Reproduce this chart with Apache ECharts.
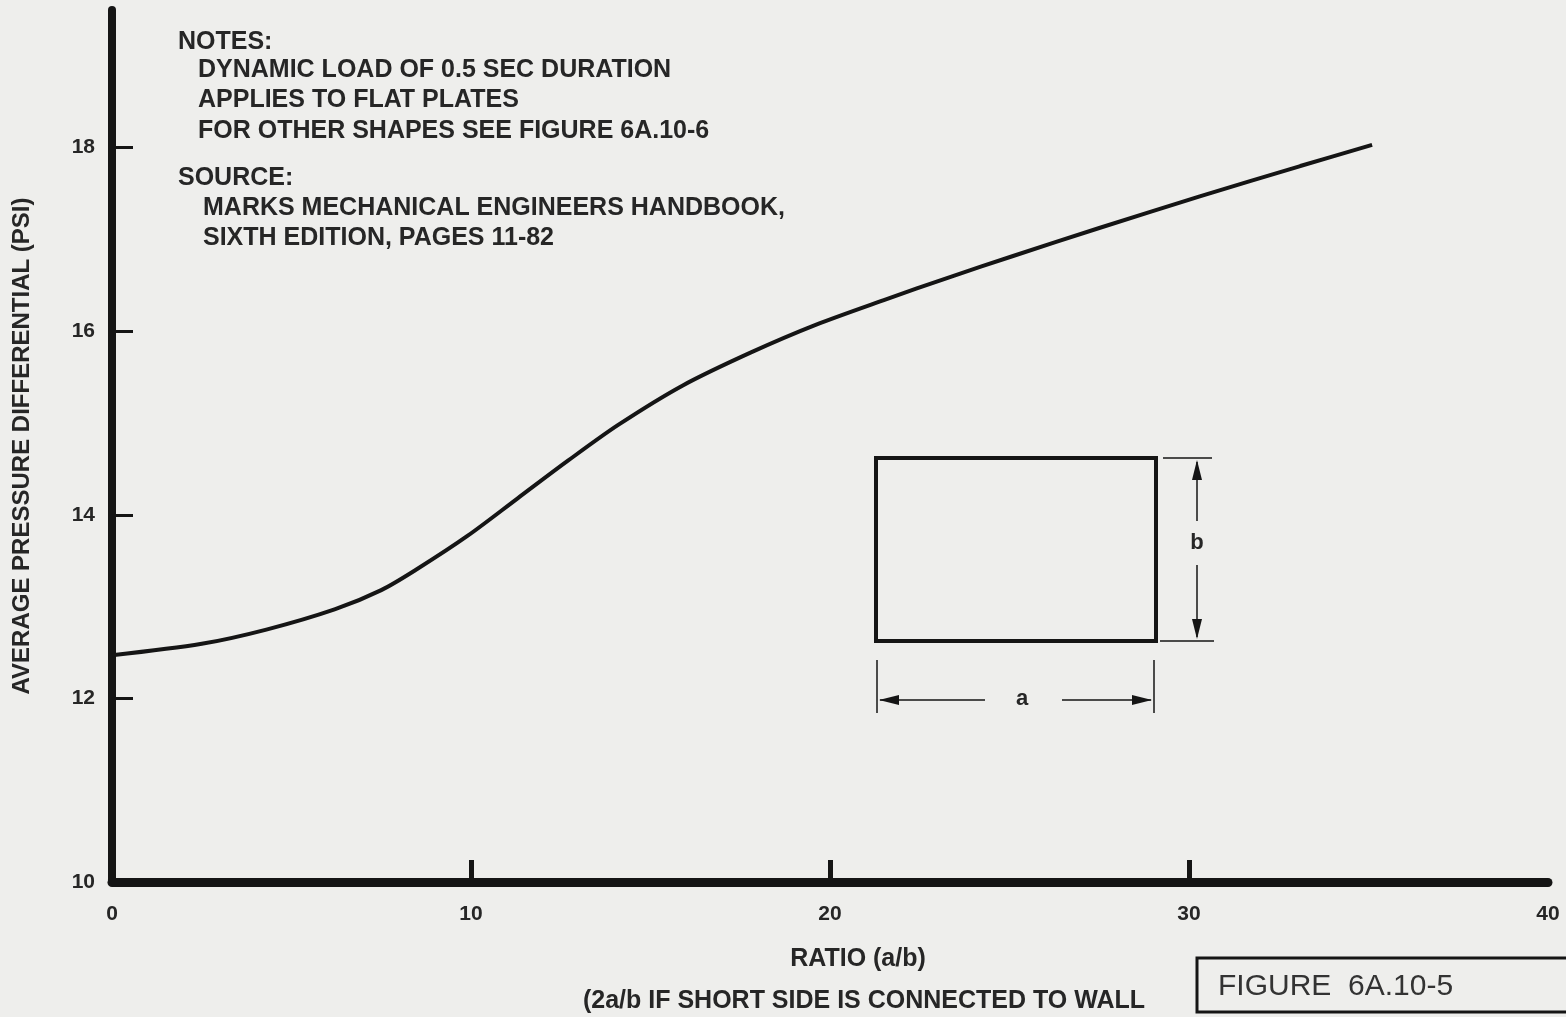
<!DOCTYPE html>
<html>
<head>
<meta charset="utf-8">
<script src="https://cdn.jsdelivr.net/npm/echarts@6/dist/echarts.min.js"></script>
<style>html,body{margin:0;padding:0;background:#eeeeec;}#c{width:1566px;height:1017px;}</style>
</head>
<body>
<div id="c"></div>
<script>
// Curve: ratio a/b vs average pressure differential (psi)
const ratioValues = [0, 2.5, 4.3, 6.2, 7.5, 8.5, 9.9, 11.3, 12.7, 14.1, 15.9, 17.8, 19.6, 21.5, 23.3, 25.1, 27.5, 30.3, 33.1, 35.1];
const pressureValues = [12.47, 12.595, 12.75, 12.97, 13.18, 13.41, 13.77, 14.18, 14.59, 14.98, 15.41, 15.77, 16.07, 16.34, 16.585, 16.82, 17.125, 17.47, 17.80, 18.03];
const xTickLabels = [0, 10, 20, 30, 40];
const yTickLabels = [10, 12, 14, 16, 18];
const xTickMarks = [10, 20, 30];
const yTickMarks = [12, 14, 16, 18];
const notesLines = ['NOTES:', 'DYNAMIC LOAD OF 0.5 SEC DURATION', 'APPLIES TO FLAT PLATES', 'FOR OTHER SHAPES SEE FIGURE 6A.10-6', 'SOURCE:', 'MARKS MECHANICAL ENGINEERS HANDBOOK,', 'SIXTH EDITION, PAGES 11-82'];

const ink = '#151515';
const textInk = '#262626';
const font = '"Liberation Sans", Arial, sans-serif';
const chart = echarts.init(document.getElementById('c'), null, {renderer: 'canvas'});

const noteX = [178, 198, 198, 198, 178, 203, 203];
const noteY = [42, 70, 100, 131, 178, 208, 238];
const noteText = notesLines.map((t, i) => ({
  type: 'text', x: noteX[i], y: noteY[i],
  style: {text: t, font: 'bold 25px ' + font, fill: textInk, verticalAlign: 'middle'}
}));

chart.setOption({
  backgroundColor: '#eeeeec',
  animation: false,
  grid: {left: 112, right: 18, top: 10, bottom: 135, outerBoundsMode: 'none', containLabel: false},
  xAxis: {
    type: 'value', min: 0, max: 40, interval: 10,
    name: 'RATIO (a/b)', nameLocation: 'middle', nameGap: 65,
    nameTextStyle: {fontFamily: font, fontWeight: 'bold', fontSize: 25, color: textInk, padding: [0, 0, 0, 56]},
    axisLine: {lineStyle: {color: ink, width: 9}},
    axisTick: {inside: true, length: 22, lineStyle: {color: ink, width: 5}, customValues: xTickMarks},
    axisLabel: {customValues: xTickLabels, margin: 22, fontFamily: font, fontWeight: 'bold', fontSize: 21, color: textInk},
    splitLine: {show: false}
  },
  yAxis: {
    type: 'value', min: 10, max: 19.5, interval: 2,
    name: 'AVERAGE PRESSURE DIFFERENTIAL (PSI)', nameLocation: 'middle', nameGap: 78, nameRotate: 90,
    nameTextStyle: {fontFamily: font, fontWeight: 'bold', fontSize: 24, color: textInk},
    axisLine: {lineStyle: {color: ink, width: 8}},
    axisTick: {inside: true, length: 21, lineStyle: {color: ink, width: 3}, customValues: yTickMarks},
    axisLabel: {customValues: yTickLabels, margin: 17, fontFamily: font, fontWeight: 'bold', fontSize: 21, color: textInk},
    splitLine: {show: false}
  },
  series: [{
    type: 'line', smooth: 0.3, showSymbol: false,
    lineStyle: {color: ink, width: 4},
    data: ratioValues.map((x, i) => [x, pressureValues[i]])
  }],
  graphic: noteText.concat([
    // inset plate sketch
    {type: 'rect', shape: {x: 876, y: 458, width: 280, height: 183}, style: {fill: 'none', stroke: ink, lineWidth: 4}},
    {type: 'line', shape: {x1: 1163, y1: 458, x2: 1212, y2: 458}, style: {stroke: ink, lineWidth: 1.5}},
    {type: 'line', shape: {x1: 1160, y1: 641, x2: 1214, y2: 641}, style: {stroke: ink, lineWidth: 1.5}},
    {type: 'line', shape: {x1: 1197, y1: 462, x2: 1197, y2: 521}, style: {stroke: ink, lineWidth: 1.5}},
    {type: 'line', shape: {x1: 1197, y1: 565, x2: 1197, y2: 637}, style: {stroke: ink, lineWidth: 1.5}},
    {type: 'polygon', shape: {points: [[1197, 460], [1192, 480], [1202, 480]]}, style: {fill: ink}},
    {type: 'polygon', shape: {points: [[1197, 639], [1192, 619], [1202, 619]]}, style: {fill: ink}},
    {type: 'text', x: 1197, y: 543, style: {text: 'b', font: 'bold 22px ' + font, fill: textInk, align: 'center', verticalAlign: 'middle'}},
    {type: 'line', shape: {x1: 877, y1: 660, x2: 877, y2: 713}, style: {stroke: ink, lineWidth: 1.5}},
    {type: 'line', shape: {x1: 1154, y1: 660, x2: 1154, y2: 713}, style: {stroke: ink, lineWidth: 1.5}},
    {type: 'line', shape: {x1: 880, y1: 700, x2: 985, y2: 700}, style: {stroke: ink, lineWidth: 1.5}},
    {type: 'line', shape: {x1: 1062, y1: 700, x2: 1151, y2: 700}, style: {stroke: ink, lineWidth: 1.5}},
    {type: 'polygon', shape: {points: [[879, 700], [899, 695], [899, 705]]}, style: {fill: ink}},
    {type: 'polygon', shape: {points: [[1152, 700], [1132, 695], [1132, 705]]}, style: {fill: ink}},
    {type: 'text', x: 1022, y: 699, style: {text: 'a', font: 'bold 22px ' + font, fill: textInk, align: 'center', verticalAlign: 'middle'}},
    // subtitle and figure box
    {type: 'text', x: 864, y: 1001, style: {text: '(2a/b IF SHORT SIDE IS CONNECTED TO WALL', font: 'bold 25px ' + font, fill: textInk, align: 'center', verticalAlign: 'middle'}},
    {type: 'rect', shape: {x: 1197, y: 958, width: 380, height: 54}, style: {fill: 'none', stroke: ink, lineWidth: 3}},
    {type: 'text', x: 1218, y: 987, style: {text: 'FIGURE  6A.10-5', font: '30px ' + font, fill: '#333', verticalAlign: 'middle'}}
  ])
});
</script>
</body>
</html>
